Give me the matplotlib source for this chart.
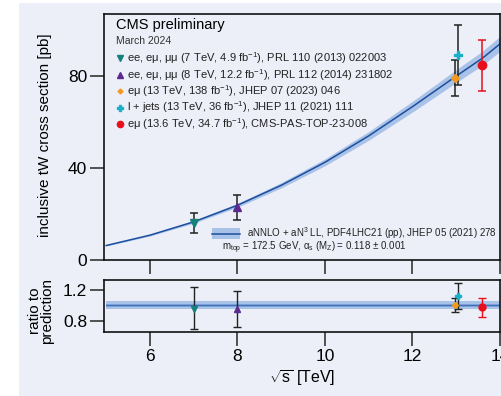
import matplotlib
matplotlib.use("Agg")
import matplotlib.pyplot as plt
from matplotlib.patches import Rectangle
from matplotlib.lines import Line2D
import numpy as np

plt.rcParams['font.family'] = ['Liberation Sans', 'DejaVu Sans']
plt.rcParams['mathtext.fontset'] = 'custom'
plt.rcParams['mathtext.rm'] = 'Liberation Sans'
plt.rcParams['mathtext.it'] = 'Liberation Sans'

# theory curve (aNNLO + aN3LO)
theory_sqrts = [5, 6, 7, 8, 9, 10, 11, 12, 13, 13.6, 14]
theory_xsec = [6.3, 10.8, 16.6, 23.8, 32.5, 42.5, 54.0, 66.7, 80.0, 87.8, 94.0]
theory_rel_unc = 0.035

# measurements
meas_labels = [
    r"ee, e$\mu$, $\mu\mu$ (7 TeV, 4.9 fb$^{-1}$), PRL 110 (2013) 022003",
    r"ee, e$\mu$, $\mu\mu$ (8 TeV, 12.2 fb$^{-1}$), PRL 112 (2014) 231802",
    r"e$\mu$ (13 TeV, 138 fb$^{-1}$), JHEP 07 (2023) 046",
    r"l + jets (13 TeV, 36 fb$^{-1}$), JHEP 11 (2021) 111",
    r"e$\mu$ (13.6 TeV, 34.7 fb$^{-1}$), CMS-PAS-TOP-23-008",
]
meas_sqrts = [7.0, 8.0, 12.97, 13.04, 13.6]
meas_xsec = [16.3, 23.0, 79.2, 89.0, 84.6]
meas_err_up = [4.3, 5.4, 8.0, 13.0, 11.0]
meas_err_dn = [4.5, 5.4, 8.0, 13.0, 11.0]
ratio_val = [0.956, 0.956, 1.004, 1.12, 0.975]
ratio_err_up = [0.28, 0.225, 0.09, 0.16, 0.12]
ratio_err_dn = [0.256, 0.225, 0.09, 0.16, 0.12]

markers = ['v', '^', 'D', 'P', 'o']
msizes = [6, 6, 4, 6, 6]
colors = ['#16807a', '#5b2a8e', '#f39a1e', '#1ab0c8', '#e8101c']
ecolors = ['#222222', '#222222', '#222222', '#222222', '#e8101c']

bg = '#eceef8'
W, H = 502, 396
fig = plt.figure(figsize=(W / 100, H / 100), dpi=100)
fig.patch.set_facecolor('white')
fig.patches.append(Rectangle((19 / W, 0), 1 - 19 / W, 1 - 3 / H,
                             transform=fig.transFigure, facecolor=bg,
                             edgecolor='none', zorder=-10))

ax = fig.add_axes([104 / W, 136 / H, 396 / W, 246 / H])
rx = fig.add_axes([104 / W, 64 / H, 396 / W, 52 / H])
for a in (ax, rx):
    a.set_facecolor(bg)
    for s in a.spines.values():
        s.set_linewidth(1.2)
        s.set_color('#111111')
    a.tick_params(direction='out', length=10, width=1.3, color='#444444',
                  labelsize=12.5, pad=2)
    a.set_xlim(4.95, 14)
    a.set_xticks([6, 8, 10, 12, 14])

ax.set_ylim(0, 107)
ax.set_yticks([0, 40, 80])
ax.tick_params(axis='x', labelbottom=False)
rx.set_ylim(0.665, 1.32)
rx.set_yticks([0.8, 1.2])

ts = np.array(theory_sqrts)
tx = np.array(theory_xsec)
bandc = '#a9c3e8'
linec = '#1d4e9e'
ax.fill_between(ts, tx * (1 - theory_rel_unc), tx * (1 + theory_rel_unc),
                color=bandc, lw=0, zorder=1)
ax.plot(ts, tx, color=linec, lw=1.1, zorder=2)

rx.fill_between(ts, 1 - 0.05, 1 + 0.05, color=bandc, lw=0, zorder=1)
rx.fill_between(ts, 1 - 0.018, 1 + 0.018, color='#7fa4da', lw=0, zorder=1)
rx.plot(ts, np.ones_like(ts), color=linec, lw=0.8, zorder=2, alpha=0.6)

for i in range(len(meas_sqrts)):
    ax.errorbar(meas_sqrts[i], meas_xsec[i],
                yerr=[[meas_err_dn[i]], [meas_err_up[i]]],
                fmt='none', ecolor=ecolors[i], elinewidth=1.1, capsize=3,
                capthick=1.1, zorder=3)
    ax.plot(meas_sqrts[i], meas_xsec[i], marker=markers[i], ms=msizes[i],
            color=colors[i], mec=colors[i], ls='none', zorder=4)
    rx.errorbar(meas_sqrts[i], ratio_val[i],
                yerr=[[ratio_err_dn[i]], [ratio_err_up[i]]],
                fmt='none', ecolor=ecolors[i], elinewidth=1.0, capsize=3,
                capthick=1.0, zorder=3)
    rx.plot(meas_sqrts[i], ratio_val[i], marker=markers[i], ms=msizes[i] - 1,
            color=colors[i], mec=colors[i], ls='none', zorder=4)


def fx(px):
    return px / W


def fy(py):
    return 1 - py / H


fig.text(fx(116), fy(25), "CMS preliminary", fontsize=10.5, va='center', ha='left')
fig.text(fx(116), fy(41), "March 2024", fontsize=7.5, va='center', ha='left',
         color='#333333')
rows = [58, 75, 91, 107.5, 124]
for i, lab in enumerate(meas_labels):
    fig.lines.append(Line2D([fx(120)], [fy(rows[i])], marker=markers[i],
                            ms=msizes[i] - 1.5, color=colors[i], ls='none',
                            transform=fig.transFigure))
    fig.text(fx(127), fy(rows[i]), lab, fontsize=8.0, va='center', ha='left',
             color='#222222')

# theory legend
fig.patches.append(Rectangle((fx(212), fy(239)), fx(240) - fx(212), fy(228) - fy(239),
                             transform=fig.transFigure, facecolor=bandc,
                             edgecolor='none'))
fig.lines.append(Line2D([fx(212), fx(240)], [fy(233.5), fy(233.5)], color=linec,
                        lw=1.1, transform=fig.transFigure))
fig.text(fx(247), fy(233.5), r"aNNLO + aN$^3$ LL, PDF4LHC21 (pp), JHEP 05 (2021) 278",
         fontsize=7.0, va='center', ha='left', color='#222222')
fig.text(fx(222), fy(248), r"m$_{\rm top}$ = 172.5 GeV, $\alpha_{\rm s}$ (M$_{\rm Z}$) = 0.118 $\pm$ 0.001",
         fontsize=7.0, va='center', ha='left', color='#222222')

fig.text(fx(45), fy(135), "inclusive tW cross section [pb]", rotation=90,
         fontsize=11, va='center', ha='center')
fig.text(fx(41), fy(311), "ratio to\nprediction", rotation=90, fontsize=11,
         va='center', ha='center', linespacing=0.9)
rx.set_xlabel(r"$\sqrt{\rm s}$ [TeV]", fontsize=11.5, labelpad=3)

fig.savefig("out.png", dpi=100, facecolor=fig.get_facecolor())
